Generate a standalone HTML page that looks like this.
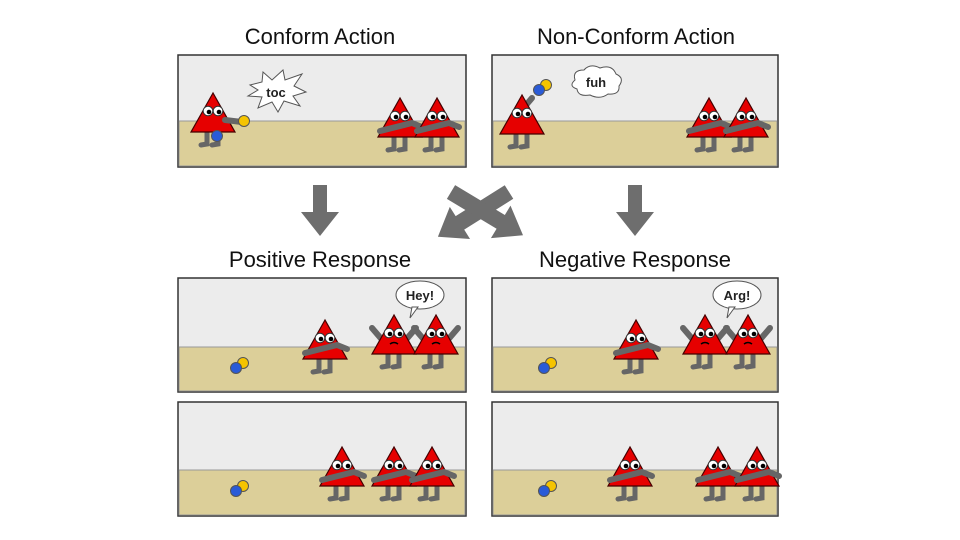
<!DOCTYPE html>
<html><head><style>
html,body{margin:0;padding:0;background:#fff;}
svg{display:block;}
text{font-family:"Liberation Sans",sans-serif;}
</style></head><body>
<svg width="960" height="540" viewBox="0 0 960 540" xmlns="http://www.w3.org/2000/svg">
<defs>
<g id="ch">
  <path d="M-6 12 L-6 26 L-12 27" stroke="#666" stroke-width="5" fill="none" stroke-linecap="round"/>
  <path d="M5 12 L5 26 L-1 27" stroke="#666" stroke-width="5" fill="none" stroke-linecap="round"/>
  <polygon points="0,-25 -22,14 22,14" fill="#e60000" stroke="#400" stroke-width="1.2"/>
  <circle cx="-5" cy="-7" r="4.8" fill="#fff" stroke="#333" stroke-width="1"/>
  <circle cx="5" cy="-7" r="4.8" fill="#fff" stroke="#333" stroke-width="1"/>
  <circle cx="-4" cy="-6" r="2.3" fill="#000"/>
  <circle cx="6" cy="-6" r="2.3" fill="#000"/>
</g>
<g id="fold">
  <use href="#ch"/>
  <path d="M-20 8 L12 0 L22 4" stroke="#666" stroke-width="6" fill="none" stroke-linecap="round"/>
</g>
<g id="up">
  <path d="M-10 2 L-22 -12 M10 2 L22 -12" stroke="#666" stroke-width="6" fill="none" stroke-linecap="round"/>
  <use href="#ch"/>
  <path d="M-4 4 Q0 1 4 4" stroke="#000" stroke-width="1.5" fill="none"/>
</g>
<g id="balls">
  <circle cx="5" cy="-3" r="5.5" fill="#f5c400" stroke="#555" stroke-width="1"/>
  <circle cx="-2" cy="2" r="5.5" fill="#2a5bd7" stroke="#555" stroke-width="1"/>
</g>
<polygon id="arr" points="0,-8 58,-8 58,-19 84,0 58,19 58,8 0,8" fill="#6e6e6e"/>
</defs>

<g font-size="22" fill="#111" text-anchor="middle">
<text x="320" y="44">Conform Action</text>
<text x="636" y="44">Non-Conform Action</text>
<text x="320" y="267">Positive Response</text>
<text x="635" y="267">Negative Response</text>
</g>

<g stroke="#333" stroke-width="1.5">
<rect x="178" y="55" width="288" height="112" fill="#ececec"/>
<rect x="492" y="55" width="286" height="112" fill="#ececec"/>
<rect x="178" y="278" width="288" height="114" fill="#ececec"/>
<rect x="492" y="278" width="286" height="114" fill="#ececec"/>
<rect x="178" y="402" width="288" height="114" fill="#ececec"/>
<rect x="492" y="402" width="286" height="114" fill="#ececec"/>
</g>
<g fill="#dccf99" stroke="#999" stroke-width="1">
<rect x="179" y="121" width="286" height="45"/>
<rect x="493" y="121" width="284" height="45"/>
<rect x="179" y="347" width="286" height="44"/>
<rect x="493" y="347" width="284" height="44"/>
<rect x="179" y="470" width="286" height="45"/>
<rect x="493" y="470" width="284" height="45"/>
</g>

<polygon points="250,85 262,82 263,72 272,80 283,70 285,80 302,74 294,86 306,92 293,96 300,106 284,101 278,112 272,102 258,108 262,97 248,96 258,90" fill="#fff" stroke="#555" stroke-width="1"/>
<text x="276" y="97" font-size="13" font-weight="bold" text-anchor="middle" fill="#222">toc</text>
<use href="#ch" x="213" y="118"/>
<path d="M225 120 L242 122" stroke="#666" stroke-width="6" stroke-linecap="round"/>
<circle cx="244" cy="121" r="5.5" fill="#f5c400" stroke="#555"/>
<circle cx="217" cy="136" r="5.5" fill="#2a5bd7" stroke="#555"/>
<use href="#fold" x="400" y="123"/>
<use href="#fold" x="437" y="123"/>

<path d="M575 80 Q572 70 584 70 Q590 63 600 68 Q612 64 616 74 Q625 78 619 86 Q620 95 608 94 Q600 100 590 95 Q578 97 577 89 Q568 86 575 80Z" fill="#fff" stroke="#555" stroke-width="1"/>
<text x="596" y="87" font-size="13" font-weight="bold" text-anchor="middle" fill="#222">fuh</text>
<use href="#balls" x="541" y="88"/>
<path d="M515 118 L532 98" stroke="#666" stroke-width="6" stroke-linecap="round"/>
<use href="#ch" x="522" y="120"/>
<use href="#fold" x="709" y="123"/>
<use href="#fold" x="746" y="123"/>

<g fill="#6e6e6e">
<polygon points="313,185 327,185 327,212 339,212 320,236 301,212 313,212"/>
<polygon points="628,185 642,185 642,212 654,212 635,236 616,212 628,212"/>
</g>
<use href="#arr" transform="translate(509,192) rotate(147.8)"/>
<use href="#arr" transform="translate(451,192) rotate(31)"/>

<ellipse cx="420" cy="295" rx="24" ry="14" fill="#fff" stroke="#555"/>
<polygon points="412,307 418,307 410,318" fill="#fff" stroke="#555"/>
<text x="420" y="300" font-size="13" font-weight="bold" text-anchor="middle" fill="#222">Hey!</text>
<use href="#balls" x="238" y="366"/>
<use href="#fold" x="325" y="345"/>
<use href="#up" x="394" y="340"/>
<use href="#up" x="436" y="340"/>

<ellipse cx="737" cy="295" rx="24" ry="14" fill="#fff" stroke="#555"/>
<polygon points="729,307 735,307 727,318" fill="#fff" stroke="#555"/>
<text x="737" y="300" font-size="13" font-weight="bold" text-anchor="middle" fill="#222">Arg!</text>
<use href="#balls" x="546" y="366"/>
<use href="#fold" x="636" y="345"/>
<use href="#up" x="705" y="340"/>
<use href="#up" x="748" y="340"/>

<use href="#balls" x="238" y="489"/>
<use href="#fold" x="342" y="472"/>
<use href="#fold" x="394" y="472"/>
<use href="#fold" x="432" y="472"/>

<use href="#balls" x="546" y="489"/>
<use href="#fold" x="630" y="472"/>
<use href="#fold" x="718" y="472"/>
<use href="#fold" x="757" y="472"/>
</svg>
</body></html>
